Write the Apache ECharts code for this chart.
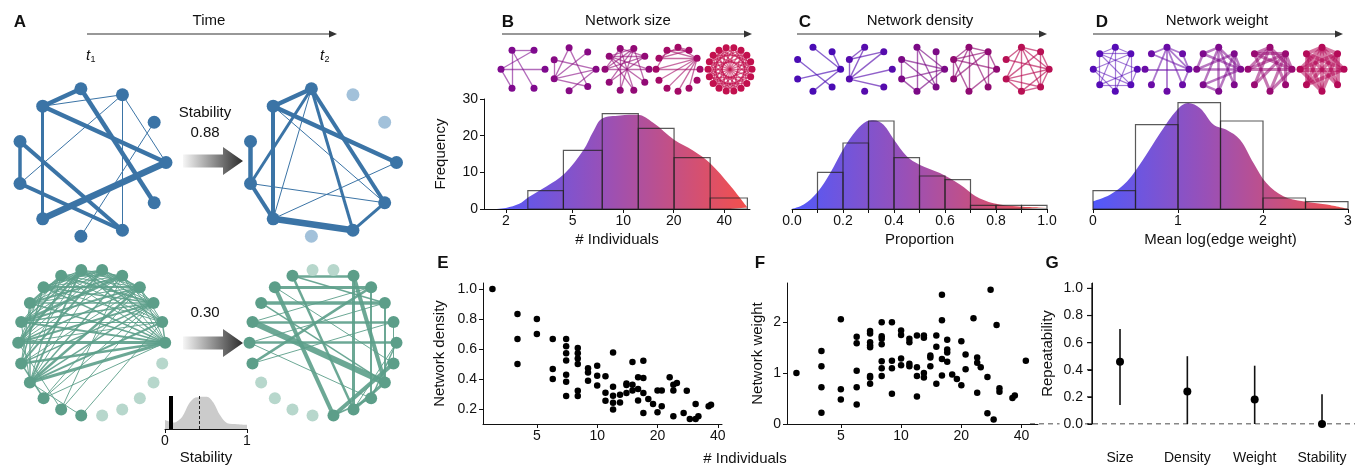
<!DOCTYPE html>
<html>
<head>
<meta charset="utf-8">
<title>Network size, density, weight and stability</title>
<script src="https://cdn.jsdelivr.net/npm/echarts@6/dist/echarts.min.js"></script>
<style>
  html, body { margin: 0; padding: 0; background: #fff; }
  #chart { width: 1358px; height: 467px; }
</style>
</head>
<body>
<div id="chart"></div>
<script>
const FONT = '"Liberation Sans", Arial, Helvetica, sans-serif';
const INK = '#111';

// ---- B: network size ----
const sizeBinEdges = [2.7, 4.4, 7.5, 12.3, 20.1, 33, 55];
const sizeCounts = [5, 16, 26, 22, 14, 3];
const sizeDensN = [1.64, 2.0, 2.4, 2.72, 3.5, 4.46, 5.78, 6.64, 7.46, 9.59, 12.2, 15.1, 20.1, 26.2, 33, 43.4, 55];
const sizeDensF = [0, 0.3, 1.4, 3.2, 6.2, 9.6, 16, 21.2, 24.6, 25.5, 25.7, 23.5, 18.9, 15.9, 12.5, 6.4, 0.4];
const sizeTicks = [2, 5, 10, 20, 40];

// ---- C: network density ----
const propBinEdges = [0.1, 0.2, 0.3, 0.4, 0.5, 0.6, 0.7, 0.8, 0.9, 1.0];
const propCounts = [10, 18, 24, 14, 9, 8, 1, 1, 1];
const propDensX = [0, 0.046, 0.098, 0.15, 0.2, 0.254, 0.293, 0.32, 0.359, 0.4, 0.45, 0.5, 0.58, 0.66, 0.72, 0.79, 0.89, 1.0];
const propDensF = [0, 1.2, 4.4, 9.8, 16.2, 21.6, 23.9, 24.2, 23, 18.9, 14.4, 12.1, 9.8, 6.6, 3.5, 1.6, 0.7, 0.4];
const propTicks = [0, 0.1, 0.2, 0.3, 0.4, 0.5, 0.6, 0.7, 0.8, 0.9, 1.0];
const propLabels = [0, 0.2, 0.4, 0.6, 0.8, 1.0];

// ---- D: network weight ----
const weightBinEdges = [0, 0.5, 1, 1.5, 2, 2.5, 3];
const weightCounts = [5, 23, 29, 24, 3, 2];
const weightDensX = [0, 0.2, 0.4, 0.59, 0.79, 0.99, 1.12, 1.26, 1.42, 1.57, 1.73, 1.89, 2.04, 2.24, 2.47, 2.75, 3.0];
const weightDensF = [2.1, 3.9, 7.5, 13.5, 20.7, 27.1, 28.9, 27.5, 23, 21.6, 18.9, 12.5, 7.1, 3.5, 2.1, 1.2, 0];

// ---- E / F: scatter against # individuals ----
const scatterTicks = [5, 10, 20, 40];
const eN = [3, 4, 4, 4, 5, 5, 6, 6, 6, 7, 7, 7, 7, 7, 7, 7, 8, 8, 8, 8, 8, 8, 9, 9, 9, 10, 10, 10,
  11, 11, 11, 12, 12, 12, 12, 12, 13, 13, 14, 14, 14, 15, 15, 15, 16, 16, 16, 17, 17, 17, 17,
  18, 19, 20, 20, 21, 21, 23, 24, 24, 24, 25, 27, 28, 29, 31, 31, 32, 36, 37];
const eDensity = [1.0, 0.833, 0.667, 0.5, 0.8, 0.7, 0.667, 0.467, 0.4,
  0.667, 0.619, 0.571, 0.524, 0.429, 0.381, 0.286, 0.607, 0.571, 0.536, 0.5, 0.321, 0.286,
  0.472, 0.444, 0.389, 0.489, 0.422, 0.356, 0.418, 0.309, 0.255, 0.576, 0.348, 0.288, 0.242, 0.197,
  0.295, 0.244, 0.37, 0.36, 0.307, 0.513, 0.362, 0.324, 0.411, 0.333, 0.256, 0.522, 0.407, 0.307, 0.173,
  0.267, 0.233, 0.324, 0.178, 0.324, 0.218, 0.411, 0.362, 0.324, 0.151, 0.373, 0.173, 0.322, 0.133,
  0.233, 0.133, 0.151, 0.218, 0.229];
const fN = [3, 4, 4, 4, 4, 5, 5, 5, 6, 6, 6, 6, 6, 7, 7, 7, 7, 7, 7, 7, 7, 8, 8, 8, 8, 8, 8, 8,
  9, 9, 9, 9, 10, 10, 10, 10, 11, 11, 11, 11, 12, 12, 12, 12, 13, 13, 13, 13, 14, 14, 14, 15, 15, 15,
  16, 16, 16, 16, 17, 17, 17, 17, 18, 19, 20, 20, 21, 21, 23, 24, 24, 24, 25, 27, 27, 28, 29, 30, 31, 31, 36, 37, 42];
const fWeight = [1.0, 1.43, 1.13, 0.72, 0.22, 2.05, 0.68, 0.48, 1.71, 1.58, 1.04, 0.72, 0.38,
  1.82, 1.77, 1.6, 1.54, 1.5, 0.94, 0.91, 0.79, 1.99, 1.72, 1.67, 1.56, 1.23, 1.09, 0.94,
  1.99, 1.24, 1.09, 0.59, 1.83, 1.74, 1.28, 1.15, 1.67, 1.6, 1.18, 1.13, 1.73, 1.11, 0.94, 0.54,
  1.73, 1.69, 1.0, 0.91, 1.34, 1.3, 1.13, 1.73, 1.51, 0.79, 2.53, 2.03, 1.27, 0.95,
  1.65, 1.46, 1.4, 1.22, 0.97, 0.88, 1.62, 0.76, 1.36, 1.07, 2.07, 1.3, 1.2, 0.61, 1.11,
  0.92, 0.21, 2.63, 0.09, 1.94, 0.63, 0.7, 0.51, 0.56, 1.24];

// ---- G: repeatability ----
const gCats = ['Size', 'Density', 'Weight', 'Stability'];
const gEst = [0.46, 0.24, 0.18, 0.0];
const gLow = [0.14, 0, 0, 0];
const gHigh = [0.70, 0.50, 0.43, 0.22];
const gTicks = [0, 0.2, 0.4, 0.6, 0.8, 1.0];
const gXMin = 0.584, gXMax = 4.49, gYMax = 1.04;

// ---- A: stability inset ----
const stabDensX = [0, 0.11, 0.21, 0.29, 0.37, 0.51, 0.59, 0.67, 0.76, 0.88, 1.0];
const stabDensY = [0.28, 0.2, 0.38, 0.77, 0.97, 1.0, 0.82, 0.43, 0.18, 0.15, 0.13];
const obsStability = 0.07;
const meanStability = 0.42;

// ---- A: example networks (slot index on circle, edges [from, to, width]) ----
const aTopSlots = 11;
const aTopT1Faded = [];
const aTopT2Faded = [1, 2, 8];
const aTopT1Edges = [[3, 4, 4.5], [4, 0, 4.5], [3, 10, 4.5], [2, 0, 1], [2, 9, 1], [2, 6, 1], [4, 2, 1],
  [4, 7, 3], [5, 6, 3.5], [5, 9, 4], [6, 9, 4], [7, 0, 6.5], [1, 8, 1]];
const aTopT2Edges = [[3, 4, 4.5], [3, 6, 3], [3, 7, 1], [3, 9, 3], [3, 10, 4], [4, 0, 4.5], [4, 7, 4],
  [4, 10, 1], [5, 6, 4.5], [6, 7, 4], [6, 10, 1], [7, 9, 6.5], [7, 0, 1], [9, 10, 3]];

const aBotSlots = 22;
const aBotT1Faded = [17, 18, 19, 20, 21];
const aBotT2Faded = [5, 6, 13, 14, 15, 16];
const aBotT1Edges = [
  [0, 11, 3], [0, 10, 2], [0, 12, 2.5], [0, 13, 3], [0, 9, 1.5], [0, 8, 1.5], [0, 7, 1], [0, 6, 1.5],
  [0, 5, 1], [0, 4, 1], [0, 3, 1], [0, 14, 1], [0, 1, 1.5],
  [13, 1, 2], [13, 2, 1.5], [13, 3, 2.5], [13, 4, 1.5], [13, 5, 1], [13, 6, 2], [13, 7, 1], [13, 9, 1.5], [13, 10, 1],
  [12, 2, 1.5], [12, 3, 1], [12, 5, 2], [12, 6, 1], [12, 8, 1.5], [12, 9, 1],
  [11, 1, 1], [11, 2, 2], [11, 3, 1.5], [11, 4, 1], [11, 5, 1], [11, 6, 2.5], [11, 7, 1.5], [11, 8, 1],
  [10, 1, 1], [10, 2, 1.5], [10, 3, 2], [10, 4, 3], [10, 5, 1], [10, 6, 1.5], [10, 7, 1],
  [9, 2, 1.5], [9, 3, 1], [9, 4, 2], [9, 5, 1], [9, 6, 1], [9, 7, 2],
  [8, 1, 1], [8, 2, 1.5], [8, 3, 2], [8, 4, 1], [8, 5, 1.5], [8, 6, 1],
  [7, 1, 1], [7, 2, 2], [7, 3, 1], [7, 4, 1.5], [7, 5, 1],
  [6, 2, 1], [6, 3, 1], [6, 1, 1.5], [6, 4, 1], [5, 2, 1], [5, 1, 1], [5, 3, 1.5],
  [4, 2, 1], [4, 1, 1], [3, 1, 1],
  [14, 3, 1], [14, 2, 1], [14, 12, 1.5], [15, 2, 1], [15, 4, 1], [15, 11, 1], [16, 1, 1], [16, 13, 1]];
const aBotT2Edges = [[7, 4, 2.5], [8, 3, 3], [9, 2, 3.5], [10, 20, 6], [4, 20, 4], [11, 0, 2.5], [8, 17, 4],
  [7, 18, 2.5], [17, 21, 4], [18, 0, 1], [10, 1, 2.5], [11, 2, 1], [8, 21, 1], [12, 3, 2.5], [19, 0, 1.5],
  [3, 19, 2], [2, 20, 2], [9, 20, 1.5], [12, 1, 1], [11, 19, 1], [7, 2, 1.5], [1, 21, 1], [4, 18, 3],
  [10, 3, 1], [18, 20, 3], [17, 19, 1.5]];

// ---- B/C/D: example network icons ----
const bSlots = [6, 7, 10, 12, 18];
const bColors = ['#7f0a8e', '#870a84', '#920a76', '#a40a66', '#c2104e'];
const bEdges = [
  [[2, 1], [3, 1], [2, 4], [2, 5], [3, 0], [3, 4]],
  [[4, 1], [4, 0], [4, 6], [3, 0], [3, 4], [2, 6], [5, 0], [2, 4]],
  [[0, 4], [0, 5], [1, 4], [1, 5], [1, 6], [2, 5], [2, 6], [2, 7], [3, 5], [3, 8], [4, 8], [4, 9], [2, 9], [3, 7], [1, 3], [2, 4]],
  [[1, 3], [1, 4], [1, 5], [1, 6], [1, 7], [1, 8], [1, 9], [2, 4], [2, 5], [3, 5], [0, 6], [4, 6], [2, 3], [1, 10]],
  [[0, 5], [0, 7], [0, 9], [0, 11], [0, 13], [1, 6], [1, 8], [1, 10], [1, 12], [1, 14], [2, 7], [2, 9], [2, 11], [2, 15],
   [3, 8], [3, 10], [3, 12], [3, 16], [4, 9], [4, 11], [4, 13], [4, 17], [5, 10], [5, 12], [5, 14], [6, 11], [6, 13],
   [6, 15], [7, 12], [7, 14], [7, 16], [8, 13], [8, 15], [8, 17], [9, 14], [9, 16], [10, 15], [10, 17], [11, 16],
   [12, 17], [0, 3], [5, 8], [2, 13], [6, 17], [3, 14], [9, 12]]];
const cColors = ['#4a0cb4', '#560cad', '#7b0a86', '#8f0a72', '#b81054'];
const cEdges = [
  [[2, 0], [3, 6], [4, 0], [5, 0], [1, 0]],
  [[3, 2], [3, 1], [4, 2], [4, 1], [4, 0], [4, 6], [3, 4]],
  [[2, 5], [2, 0], [2, 6], [3, 0], [3, 4], [3, 6], [4, 0], [1, 6], [5, 0], [4, 5]],
  [[2, 1], [2, 3], [2, 5], [2, 6], [1, 3], [1, 4], [1, 0], [3, 0], [3, 4], [5, 3], [1, 6], [0, 5], [2, 4]],
  [[2, 0], [2, 1], [2, 3], [2, 4], [2, 5], [2, 6], [1, 0], [1, 4], [1, 6], [0, 3], [0, 4], [0, 5], [0, 6], [4, 6], [4, 5], [5, 6]]];
const dColors = ['#560cb6', '#6a0ca6', '#7e0a8c', '#980a72', '#b40a58'];
const dWidths = [1.2, 1.8, 2.5, 3.1, 3.8];
const dEdges = [
  [[2, 1], [2, 3], [2, 5], [2, 6], [1, 3], [1, 4], [1, 7], [0, 3], [0, 5], [0, 7], [3, 7], [3, 5], [4, 6], [4, 7], [5, 7], [6, 1]],
  [[2, 5], [2, 6], [2, 7], [2, 0], [4, 0], [2, 3], [3, 0], [7, 0], [2, 1], [1, 0]],
  [[2, 3], [2, 5], [2, 6], [2, 0], [3, 0], [4, 0], [4, 1], [1, 0], [5, 0], [6, 1], [3, 4], [2, 7], [1, 7], [5, 6]],
  [[2, 3], [2, 4], [2, 5], [2, 0], [3, 0], [3, 6], [4, 1], [4, 0], [5, 1], [6, 1], [1, 0], [7, 1], [3, 1], [6, 0], [2, 7]],
  [[2, 3], [2, 4], [2, 5], [2, 6], [2, 7], [2, 0], [2, 1], [3, 0], [4, 0], [3, 6], [4, 6], [5, 1], [5, 0], [6, 1], [7, 1], [3, 5], [4, 1], [3, 7]]];

// ---- helpers ----
const log10 = v => Math.log10(v);
const logLabel = v => String(Math.round(Math.pow(10, v)));

function axis(extra) {
  const base = {
    type: 'value',
    nameLocation: 'middle',
    nameTextStyle: { fontSize: 15, color: INK, fontFamily: FONT },
    axisLine: { show: true, onZero: false, lineStyle: { color: INK, width: 1 } },
    axisTick: { show: true, length: 4, lineStyle: { color: INK, width: 1 } },
    axisLabel: { fontSize: 14, color: INK, margin: 6, fontFamily: FONT },
    splitLine: { show: false }
  };
  for (const k in extra) {
    if (base[k] && typeof base[k] === 'object' && typeof extra[k] === 'object') {
      base[k] = Object.assign({}, base[k], extra[k]);
    } else {
      base[k] = extra[k];
    }
  }
  return base;
}

function areaGradient() {
  return new echarts.graphic.LinearGradient(0, 0, 1, 0, [
    { offset: 0, color: '#5059fb' },
    { offset: 0.45, color: '#9a50b6' },
    { offset: 1, color: '#f4504c' }
  ]);
}

function renderBin(params, api) {
  const top = api.coord([api.value(0), api.value(2)]);
  const bottom = api.coord([api.value(1), 0]);
  return {
    type: 'rect',
    shape: { x: top[0], y: top[1], width: bottom[0] - top[0], height: bottom[1] - top[1] },
    style: { fill: 'none', stroke: 'rgba(35,35,35,0.75)', lineWidth: 1.2 }
  };
}

function renderErrorBar(params, api) {
  const lo = api.coord([api.value(0), api.value(1)]);
  const hi = api.coord([api.value(0), api.value(2)]);
  return {
    type: 'line',
    shape: { x1: lo[0], y1: lo[1], x2: hi[0], y2: hi[1] },
    style: { stroke: INK, lineWidth: 1.6 }
  };
}

// G's y ticks drawn from the tick values
function renderGTick(params, api) {
  const p = api.coord([api.value(0), api.value(1)]);
  return {
    type: 'line',
    shape: { x1: p[0] - 5, y1: p[1], x2: p[0], y2: p[1] },
    style: { stroke: INK, lineWidth: 1.2 }
  };
}

const option = {
  animation: false,
  backgroundColor: '#fff',
  textStyle: { fontFamily: FONT },
  grid: [
    { left: 484, top: 99, width: 266, height: 110 },   // B
    { left: 792, top: 99, width: 255, height: 110 },   // C
    { left: 1093, top: 99, width: 255, height: 110 },  // D
    { left: 483, top: 283, width: 239, height: 141 },  // E
    { left: 787, top: 283, width: 251, height: 141 },  // F
    { left: 1092, top: 283, width: 263, height: 141 }, // G
    { left: 165, top: 396, width: 82, height: 33 },    // A inset
    { left: 1030, top: 283, width: 325, height: 141 }  // G zero reference line
  ],
  xAxis: [
    axis({ gridIndex: 0, min: 0.17, max: 1.756, name: '# Individuals', nameGap: 23,
      axisTick: { customValues: sizeTicks.map(log10) },
      axisLabel: { customValues: sizeTicks.map(log10), formatter: logLabel, margin: 5 } }),
    axis({ gridIndex: 1, min: 0, max: 1, name: 'Proportion', nameGap: 23,
      axisTick: { customValues: propTicks },
      axisLabel: { customValues: propLabels, formatter: v => v.toFixed(1), margin: 5 } }),
    axis({ gridIndex: 2, min: 0, max: 3, interval: 1, name: 'Mean log(edge weight)', nameGap: 23,
      axisLabel: { margin: 5 } }),
    axis({ gridIndex: 3, min: 0.43, max: 1.623,
      axisTick: { customValues: scatterTicks.map(log10) },
      axisLabel: { customValues: scatterTicks.map(log10), formatter: logLabel, margin: 5 } }),
    axis({ gridIndex: 4, min: 0.43, max: 1.684,
      axisTick: { customValues: scatterTicks.map(log10) },
      axisLabel: { customValues: scatterTicks.map(log10), formatter: logLabel, margin: 5 } }),
    axis({ gridIndex: 5, min: gXMin, max: gXMax,
      axisLine: { show: false }, axisTick: { show: false },
      axisLabel: { customValues: [1, 2, 3, 4], formatter: v => gCats[Math.round(v) - 1], margin: 27 } }),
    axis({ gridIndex: 6, min: 0, max: 1, name: 'Stability', nameGap: 21,
      axisTick: { customValues: [0, 1] },
      axisLabel: { customValues: [0, 1], margin: 5 } }),
    axis({ gridIndex: 7, min: 0, max: 1, show: false })
  ],
  yAxis: [
    axis({ gridIndex: 0, min: 0, max: 30, interval: 10, name: 'Frequency', nameGap: 36, nameRotate: 90 }),
    axis({ gridIndex: 1, min: 0, max: 30, show: false }),
    axis({ gridIndex: 2, min: 0, max: 30, show: false }),
    axis({ gridIndex: 3, min: 0.1, max: 1.04, name: 'Network density', nameGap: 36, nameRotate: 90,
      axisTick: { customValues: [0.2, 0.4, 0.6, 0.8, 1.0] },
      axisLabel: { customValues: [0.2, 0.4, 0.6, 0.8, 1.0], formatter: v => v.toFixed(1) } }),
    axis({ gridIndex: 4, min: 0, max: 2.76, name: 'Network weight', nameGap: 22, nameRotate: 90,
      axisTick: { customValues: [0, 1, 2] },
      axisLabel: { customValues: [0, 1, 2] } }),
    axis({ gridIndex: 5, min: 0, max: gYMax, name: 'Repeatability', nameGap: 34, nameRotate: 90,
      axisTick: { customValues: gTicks },
      axisLabel: { customValues: gTicks, formatter: v => v.toFixed(1), margin: 7,
        backgroundColor: '#fff', padding: [1, 2, 1, 4] } }),
    axis({ gridIndex: 6, min: 0, max: 1.02, show: false }),
    axis({ gridIndex: 7, min: 0, max: gYMax, show: false })
  ],
  polar: [],
  angleAxis: [],
  radiusAxis: [],
  series: [],
  graphic: []
};

// networks drawn on hidden polar systems: node at radius 1, angle from its slot
function addNetwork(cx, cy, r, nSlots, edges, color, opts) {
  const idx = option.polar.length;
  option.polar.push({ center: [cx, cy], radius: r });
  option.angleAxis.push({ polarIndex: idx, type: 'value', min: 0, max: 360, startAngle: 0, clockwise: false, show: false });
  option.radiusAxis.push({ polarIndex: idx, type: 'value', min: 0, max: 1, show: false });
  const faded = opts.faded || [];
  const nodes = [];
  for (let i = 0; i < nSlots; i++) {
    nodes.push({
      value: [1, i * 360 / nSlots],
      itemStyle: { color: faded.includes(i) ? opts.fadedColor : color }
    });
  }
  option.series.push({
    type: 'graph',
    coordinateSystem: 'polar',
    polarIndex: idx,
    symbolSize: opts.nodeSize,
    data: nodes,
    links: edges.map(e => ({ source: e[0], target: e[1], lineStyle: { width: e[2] || opts.edgeWidth } })),
    lineStyle: { color: opts.edgeColor || color, opacity: opts.edgeOpacity, curveness: 0 },
    label: { show: false },
    emphasis: { disabled: true },
    silent: true,
    z: 3
  });
}

const blue = '#3b74a6', blueFaded = '#a2c1da';
const green = '#5c9e89', greenFaded = '#b7d7cc';
addNetwork(91.5, 162.5, 74.5, aTopSlots, aTopT1Edges, blue, { faded: aTopT1Faded, fadedColor: blueFaded, nodeSize: 13, edgeOpacity: 1 });
addNetwork(322, 162.5, 74.5, aTopSlots, aTopT2Edges, blue, { faded: aTopT2Faded, fadedColor: blueFaded, nodeSize: 13, edgeOpacity: 1 });
addNetwork(91.7, 342.7, 73.5, aBotSlots, aBotT1Edges, green, { faded: aBotT1Faded, fadedColor: greenFaded, nodeSize: 12, edgeOpacity: 0.9 });
addNetwork(323, 342.7, 73.5, aBotSlots, aBotT2Edges, green, { faded: aBotT2Faded, fadedColor: greenFaded, nodeSize: 12, edgeOpacity: 0.9 });

const bCenters = [523, 574, 627, 678, 730];
bSlots.forEach((n, i) => addNetwork(bCenters[i], 69.3, 22, n, bEdges[i], bColors[i], { nodeSize: 7, edgeWidth: 1.3, edgeOpacity: 0.6 }));
const cCenters = [818, 869.7, 922, 974, 1026.5];
cEdges.forEach((ed, i) => addNetwork(cCenters[i], 69.3, 22.6, 7, ed, cColors[i], { nodeSize: 7, edgeWidth: 1.4, edgeOpacity: 0.65 }));
const dCenters = [1115.3, 1167, 1218.7, 1270, 1322];
dEdges.forEach((ed, i) => addNetwork(dCenters[i], 69.3, 22, 8, ed, dColors[i], { nodeSize: 7, edgeWidth: dWidths[i], edgeOpacity: 0.55 }));

// ---- histograms with density areas ----
option.series.push(
  { type: 'line', xAxisIndex: 0, yAxisIndex: 0, smooth: 0.35, symbol: 'none', lineStyle: { width: 0 },
    areaStyle: { color: areaGradient(), opacity: 1 }, silent: true, z: 2,
    data: sizeDensN.map((n, i) => [log10(n), sizeDensF[i]]) },
  { type: 'custom', xAxisIndex: 0, yAxisIndex: 0, renderItem: renderBin, encode: { x: [0, 1], y: 2 }, silent: true, z: 4,
    data: sizeCounts.map((c, i) => [log10(sizeBinEdges[i]), log10(sizeBinEdges[i + 1]), c]) },
  { type: 'line', xAxisIndex: 1, yAxisIndex: 1, smooth: 0.35, symbol: 'none', lineStyle: { width: 0 },
    areaStyle: { color: areaGradient(), opacity: 1 }, silent: true, z: 2,
    data: propDensX.map((x, i) => [x, propDensF[i]]) },
  { type: 'custom', xAxisIndex: 1, yAxisIndex: 1, renderItem: renderBin, encode: { x: [0, 1], y: 2 }, silent: true, z: 4,
    data: propCounts.map((c, i) => [propBinEdges[i], propBinEdges[i + 1], c]) },
  { type: 'line', xAxisIndex: 2, yAxisIndex: 2, smooth: 0.35, symbol: 'none', lineStyle: { width: 0 },
    areaStyle: { color: areaGradient(), opacity: 1 }, silent: true, z: 2,
    data: weightDensX.map((x, i) => [x, weightDensF[i]]) },
  { type: 'custom', xAxisIndex: 2, yAxisIndex: 2, renderItem: renderBin, encode: { x: [0, 1], y: 2 }, silent: true, z: 4,
    data: weightCounts.map((c, i) => [weightBinEdges[i], weightBinEdges[i + 1], c]) }
);

// ---- scatter E, F ----
option.series.push(
  { type: 'scatter', xAxisIndex: 3, yAxisIndex: 3, symbolSize: 6.5, itemStyle: { color: '#000', opacity: 1 }, silent: true,
    data: eN.map((n, i) => [log10(n), eDensity[i]]) },
  { type: 'scatter', xAxisIndex: 4, yAxisIndex: 4, symbolSize: 6.5, itemStyle: { color: '#000', opacity: 1 }, silent: true,
    data: fN.map((n, i) => [log10(n), fWeight[i]]) }
);

// ---- G: repeatability ----
option.series.push(
  { type: 'line', xAxisIndex: 7, yAxisIndex: 7, symbol: 'none', silent: true, z: -1,
    lineStyle: { color: INK, type: [5, 4], width: 1.2 }, data: [[0, 0], [1, 0]] },
  { type: 'line', xAxisIndex: 5, yAxisIndex: 5, symbol: 'none', silent: true, clip: false, z: 8,
    lineStyle: { color: INK, width: 1.3, type: 'solid' }, data: [[gXMin, 0], [gXMin, gYMax]] },
  { type: 'custom', xAxisIndex: 5, yAxisIndex: 5, renderItem: renderGTick, encode: { x: 0, y: 1 }, clip: false, silent: true, z: 8,
    data: gTicks.map(v => [gXMin, v]) },
  { type: 'custom', xAxisIndex: 5, yAxisIndex: 5, renderItem: renderErrorBar, encode: { x: 0, y: [1, 2] }, silent: true,
    data: gCats.map((c, i) => [i + 1, gLow[i], gHigh[i]]) },
  { type: 'scatter', xAxisIndex: 5, yAxisIndex: 5, symbolSize: 8, itemStyle: { color: '#000', opacity: 1 }, silent: true, z: 5,
    data: gCats.map((c, i) => [i + 1, gEst[i]]) }
);

// ---- A inset: stability distribution ----
option.series.push({
  type: 'line', xAxisIndex: 6, yAxisIndex: 6, smooth: 0.3, symbol: 'none', lineStyle: { width: 0 },
  areaStyle: { color: '#cbcbcb', opacity: 1 }, silent: true,
  data: stabDensX.map((x, i) => [x, stabDensY[i]]),
  markLine: {
    silent: true, symbol: ['none', 'none'], label: { show: false },
    data: [
      { xAxis: obsStability, lineStyle: { color: '#000', width: 4, type: 'solid' } },
      { xAxis: meanStability, lineStyle: { color: '#222', width: 1, type: [3, 2] } }
    ]
  }
});

// ---- annotations ----
function txt(x, y, s, font, extra) {
  return Object.assign({
    type: 'text', x: x, y: y, silent: true,
    style: { text: s, font: font, fill: INK, align: 'center', verticalAlign: 'middle', textAlign: 'center', textVerticalAlign: 'middle' }
  }, extra || {});
}
function arrow(x1, x2, y) {
  return [
    { type: 'line', silent: true, shape: { x1: x1, y1: y, x2: x2 - 4, y2: y }, style: { stroke: '#333', lineWidth: 1.2 } },
    { type: 'polygon', silent: true, shape: { points: [[x2, y], [x2 - 8, y - 3.5], [x2 - 8, y + 3.5]] }, style: { fill: '#333' } }
  ];
}
function fatArrow(y) {
  return {
    type: 'polygon', silent: true,
    shape: { points: [[183, y - 6.5], [223, y - 6.5], [223, y - 14], [243, y], [223, y + 14], [223, y + 6.5], [183, y + 6.5]] },
    style: { fill: new echarts.graphic.LinearGradient(0, 0, 1, 0, [{ offset: 0, color: '#f6f6f6' }, { offset: 1, color: '#2c2c2c' }]) }
  };
}
const bold = 'bold 17px ' + FONT;
const reg = '15px ' + FONT;
option.graphic = [
  txt(20, 22, 'A', bold), txt(508, 22, 'B', bold), txt(805, 22, 'C', bold), txt(1102, 22, 'D', bold),
  txt(443, 263, 'E', bold), txt(760, 263, 'F', bold), txt(1052, 263, 'G', bold),
  txt(209, 21, 'Time', reg), txt(628, 21, 'Network size', reg), txt(920, 21, 'Network density', reg), txt(1217, 21, 'Network weight', reg),
  ...arrow(87, 337, 34), ...arrow(502, 752, 34), ...arrow(797, 1047, 34), ...arrow(1093, 1343, 34),
  txt(88, 56, 't', 'italic 15px ' + FONT), txt(93, 60, '1', '9px ' + FONT),
  txt(322, 56, 't', 'italic 15px ' + FONT), txt(327, 60, '2', '9px ' + FONT),
  txt(205, 113, 'Stability', reg), txt(205, 133, '0.88', reg), txt(205, 313, '0.30', reg),
  fatArrow(161), fatArrow(343),
  txt(745, 459, '# Individuals', reg)
];

const chart = echarts.init(document.getElementById('chart'), null, { renderer: 'canvas' });
chart.setOption(option);
window.addEventListener('resize', () => chart.resize());
</script>
</body>
</html>
